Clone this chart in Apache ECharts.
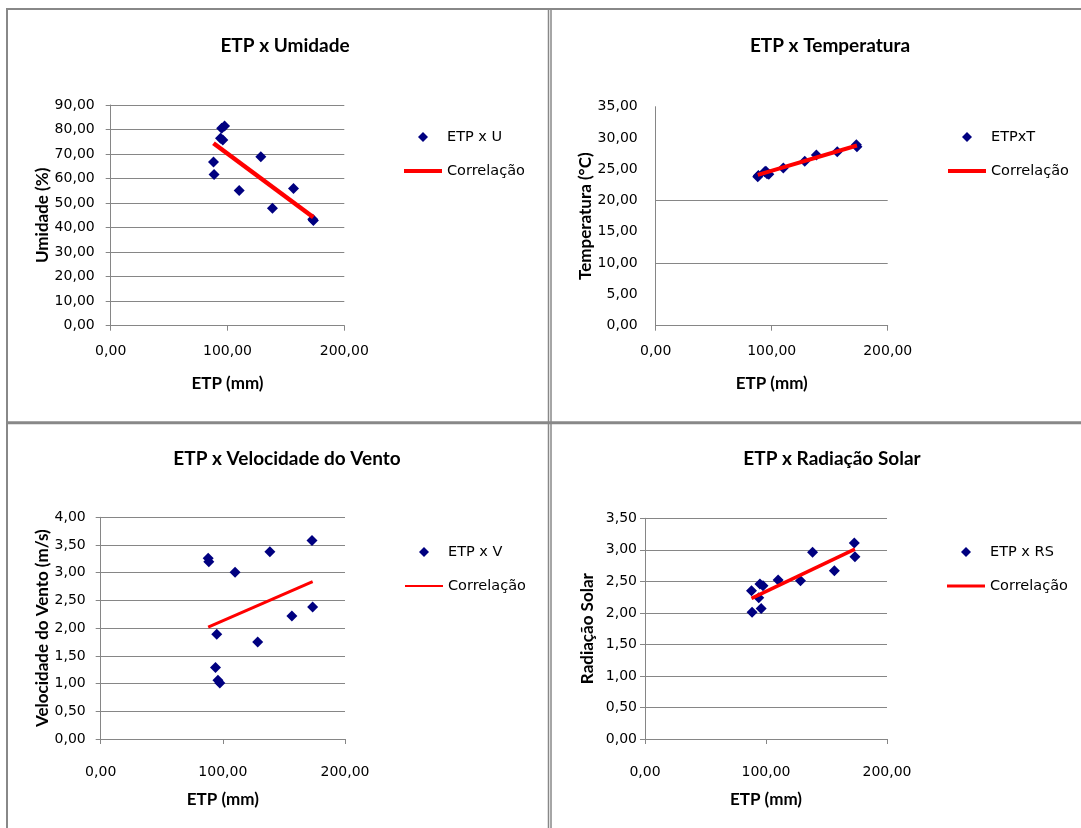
<!DOCTYPE html>
<html><head><meta charset="utf-8">
<script src="https://cdn.jsdelivr.net/npm/echarts@6/dist/echarts.min.js"></script>
<style>html,body{margin:0;padding:0;background:#fff}#c{width:1081px;height:828px}</style>
</head><body><div id="c"></div>
<script>
// ETP (mm) for the 12 observations
const etp = [88.0, 88.5, 94.0, 95.0, 96.0, 97.5, 110.0, 128.5, 138.5, 156.5, 173.0, 173.5];
const umidade = [66.8, 61.7, 76.4, 80.5, 75.7, 81.4, 55.1, 68.9, 47.9, 55.9, 43.4, 42.9];
const temperatura = [23.8, 24.0, 24.6, 24.7, 24.3, 24.2, 25.2, 26.3, 27.3, 27.8, 28.9, 28.6];
const velocidade = [3.26, 3.20, 1.29, 1.89, 1.06, 1.01, 3.01, 1.75, 3.38, 2.22, 3.58, 2.38];
const radiacao = [2.35, 2.01, 2.24, 2.46, 2.07, 2.43, 2.52, 2.51, 2.96, 2.67, 3.11, 2.89];
// correlation (trend) lines: values at the two ends
const trendEtp = [88.0, 173.5];
const umidadeTrend = [74.4, 44.2];
const temperaturaTrend = [24.1, 28.8];
const velocidadeTrend = [2.02, 2.84];
const radiacaoTrend = [2.23, 3.01];
// axis ranges [min, max, interval]
const etpAxis = [0, 200, 100];
const umidadeAxis = [0, 90, 10];
const temperaturaAxis = [0, 35, 5];
const velocidadeAxis = [0, 4, 0.5];
const radiacaoAxis = [0, 3.5, 0.5];
const temperaturaGrid = [10, 20];
const titles = ['ETP x Umidade', 'ETP x Temperatura', 'ETP x Velocidade do Vento', 'ETP x Radiação Solar'];
const yNames = ['Umidade (%)', 'Temperatura (°C)', 'Velocidade do Vento (m/s)', 'Radiação Solar'];
const scatterNames = ['ETP x U', 'ETPxT', 'ETP x V', 'ETP x RS'];
const trendName = 'Correlação';

const GRAY = '#868686';
const fmt = v => v.toFixed(2).replace('.', ',');
const tickFont = {fontFamily: 'DejaVu Sans', fontSize: 14, color: '#000'};
const nameFont = {fontFamily: 'Lato', fontWeight: 'bold', fontSize: 17, color: '#000'};

const grids = [
  {left: 110.7, top: 105, width: 233.6, height: 220.7},
  {left: 655.7, top: 106.7, width: 232, height: 219},
  {left: 100.7, top: 517.3, width: 244.3, height: 221.7},
  {left: 645, top: 518.3, width: 242, height: 220.7}
];
const yRanges = [umidadeAxis, temperaturaAxis, velocidadeAxis, radiacaoAxis];
const yVals = [umidade, temperatura, velocidade, radiacao];
const yTrends = [umidadeTrend, temperaturaTrend, velocidadeTrend, radiacaoTrend];
const yLabelMargin = [16, 18, 15, 8];
const yNameGap = [59, 60, 50, 49];
const xLabelMargin = [19, 19, 26, 26];
const xNameGap = [49, 49, 52, 52];
const titlePos = [[285, 36], [830, 36], [287, 449], [832, 449]];
const legendPos = [[404, 129], [948, 129], [405, 544], [947, 544]];
const lineW = [4.5, 4, 3, 3.5];
const legendLineH = [4, 4, 2, 3];

const xAxes = grids.map((g, i) => ({
  type: 'value', gridIndex: i, min: etpAxis[0], max: etpAxis[1], interval: etpAxis[2],
  name: 'ETP (mm)', nameLocation: 'middle', nameGap: xNameGap[i], nameTextStyle: nameFont,
  axisLine: {show: true, lineStyle: {color: GRAY, width: 1}},
  axisTick: {show: true, inside: false, length: 5, lineStyle: {color: GRAY}},
  axisLabel: Object.assign({formatter: fmt, margin: xLabelMargin[i]}, tickFont),
  splitLine: {show: false}
}));
const yAxes = grids.map((g, i) => ({
  type: 'value', gridIndex: i, min: yRanges[i][0], max: yRanges[i][1], interval: yRanges[i][2],
  name: yNames[i], nameLocation: 'middle', nameGap: yNameGap[i], nameTextStyle: nameFont,
  axisLine: {show: true, onZero: false, lineStyle: {color: GRAY, width: 1}},
  axisTick: {show: i !== 1, inside: false, length: 5, lineStyle: {color: GRAY}},
  axisLabel: Object.assign({formatter: fmt, margin: yLabelMargin[i]}, tickFont),
  splitLine: {show: i !== 1, lineStyle: {color: GRAY, width: 1}}
}));

const series = [];
grids.forEach((g, i) => {
  const s = {
    type: 'scatter', name: scatterNames[i], xAxisIndex: i, yAxisIndex: i,
    symbol: 'diamond', symbolSize: 11, itemStyle: {color: '#000080', opacity: 1},
    data: etp.map((x, k) => [x, yVals[i][k]])
  };
  if (i === 1) {
    s.markLine = {silent: true, symbol: 'none', label: {show: false},
      lineStyle: {color: GRAY, type: 'solid', width: 1},
      data: temperaturaGrid.map(v => ({yAxis: v}))};
  }
  series.push(s);
  series.push({
    type: 'line', name: trendName, xAxisIndex: i, yAxisIndex: i,
    showSymbol: false, symbol: 'none', color: '#ff0000',
    lineStyle: {color: '#ff0000', width: lineW[i]},
    data: trendEtp.map((x, k) => [x, yTrends[i][k]])
  });
});

const legends = grids.map((g, i) => ({
  orient: 'vertical', left: legendPos[i][0], top: legendPos[i][1], padding: 0,
  itemWidth: 38, itemHeight: 10, itemGap: 18, symbolKeepAspect: true,
  textStyle: {fontFamily: 'DejaVu Sans', fontSize: 14.5, color: '#000', lineHeight: 16},
  selectedMode: false,
  data: [
    {name: scatterNames[i], icon: 'path://M5,0L10,5L5,10L0,5Z', itemStyle: {color: '#000080', opacity: 1}},
    {name: trendName, icon: 'path://M0,0L38,0L38,' + legendLineH[i] + 'L0,' + legendLineH[i] + 'Z', itemStyle: {color: '#ff0000'}}
  ]
}));

const title = titles.map((t, i) => ({
  text: t, left: titlePos[i][0], top: titlePos[i][1], textAlign: 'center', padding: 0,
  textStyle: {fontFamily: 'Lato', fontWeight: 'bold', fontSize: 19, color: '#000'}
}));

const bc = '#888888';
const graphic = [
  {type: 'line', shape: {x1: 6, y1: 9, x2: 1081, y2: 9}, style: {stroke: bc, lineWidth: 2}},
  {type: 'line', shape: {x1: 7, y1: 8, x2: 7, y2: 828}, style: {stroke: bc, lineWidth: 2}},
  {type: 'line', shape: {x1: 548.5, y1: 8, x2: 548.5, y2: 828}, style: {stroke: bc, lineWidth: 1.5}},
  {type: 'line', shape: {x1: 551, y1: 8, x2: 551, y2: 828}, style: {stroke: bc, lineWidth: 1.5}},
  {type: 'line', shape: {x1: 6, y1: 422.8, x2: 1081, y2: 422.8}, style: {stroke: bc, lineWidth: 3}}
];

const chart = echarts.init(document.getElementById('c'), null, {renderer: 'canvas'});
chart.setOption({
  animation: false, backgroundColor: '#ffffff',
  title, legend: legends, grid: grids, xAxis: xAxes, yAxis: yAxes, series, graphic
});
</script></body></html>
